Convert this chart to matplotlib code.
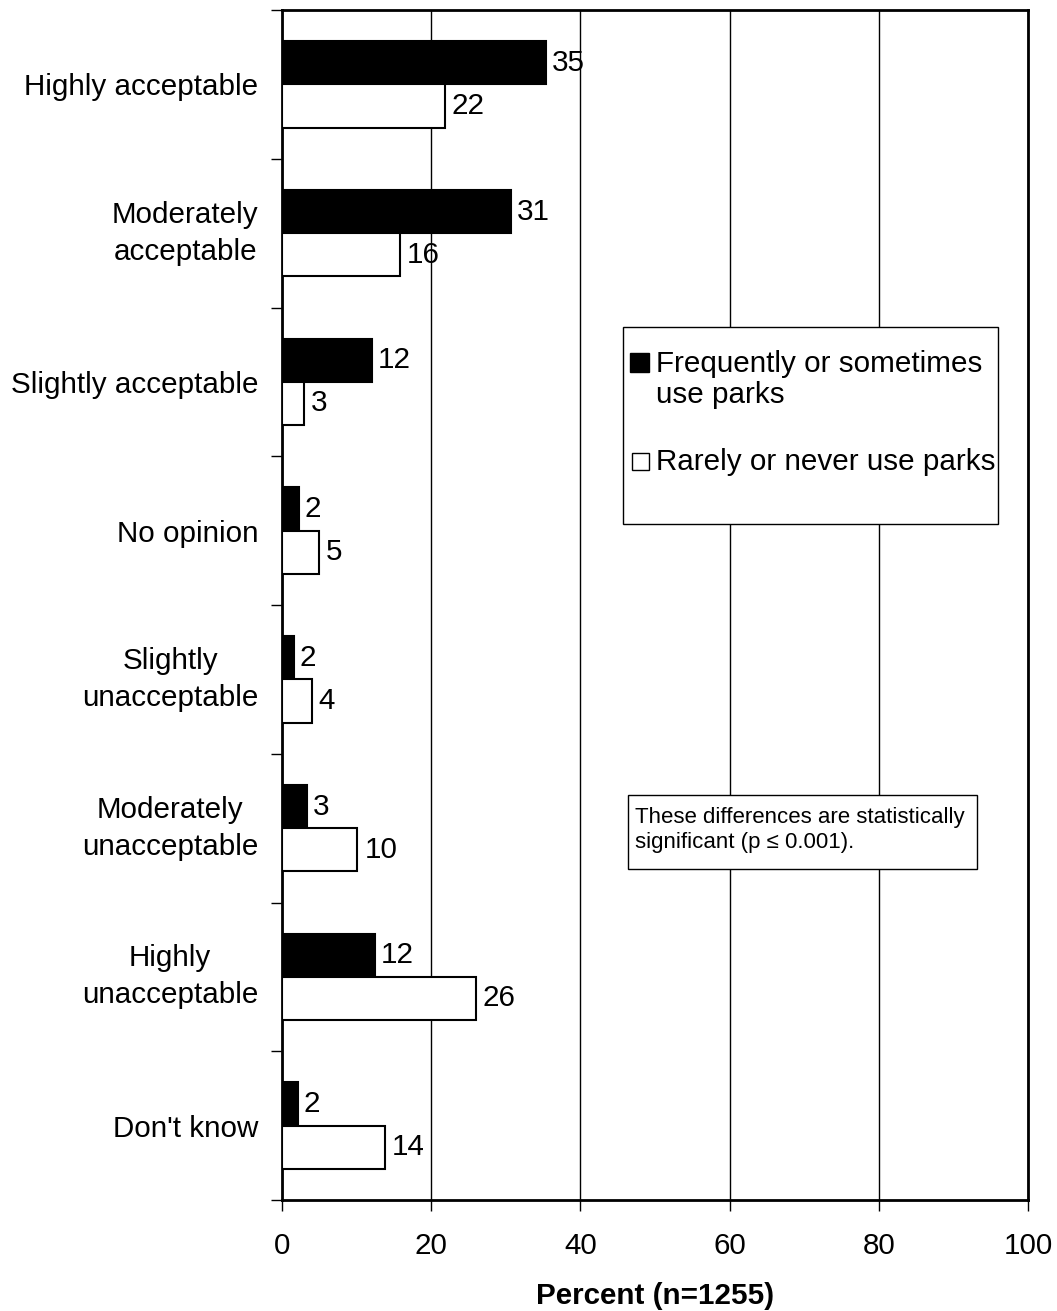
import matplotlib
matplotlib.use('Agg')
from matplotlib import pyplot as plt
from matplotlib.patches import Rectangle
import numpy as np

plt.rcParams['font.family'] = ['Liberation Sans', 'DejaVu Sans']

categories = ['Highly acceptable', 'Moderately\nacceptable', 'Slightly acceptable',
              'No opinion', 'Slightly\nunacceptable', 'Moderately\nunacceptable',
              'Highly\nunacceptable', "Don't know"]
frequent = [35.4, 30.7, 12.1, 2.3, 1.6, 3.4, 12.5, 2.1]
rare = [21.8, 15.8, 2.9, 5.0, 4.0, 10.1, 26.0, 13.8]
frequent_labels = ['35', '31', '12', '2', '2', '3', '12', '2']
rare_labels = ['22', '16', '3', '5', '4', '10', '26', '14']

FS = 21.3

fig = plt.figure(figsize=(10.57, 13.11), dpi=100)
ax = fig.add_axes([282 / 1057, 1 - 1200 / 1311, 746 / 1057, 1190 / 1311])

y = np.arange(len(categories)) + 0.5
h = 0.29
b1 = ax.barh(y - h / 2, frequent, height=h, color='black', edgecolor='black',
             linewidth=1.5, zorder=3)
b2 = ax.barh(y + h / 2, rare, height=h, color='white', edgecolor='black',
             linewidth=1.5, zorder=3)

for bar, lab in zip(b1, frequent_labels):
    ax.annotate(lab, (bar.get_width(), bar.get_y() + bar.get_height() / 2),
                xytext=(4, 0), textcoords='offset points', va='center',
                ha='left', fontsize=FS, zorder=4)
for bar, lab in zip(b2, rare_labels):
    ax.annotate(lab, (bar.get_width(), bar.get_y() + bar.get_height() / 2),
                xytext=(5, 0), textcoords='offset points', va='center',
                ha='left', fontsize=FS, zorder=4)

ax.set_xlim(0, 100)
ax.set_ylim(len(categories), 0)
ax.set_xticks([0, 20, 40, 60, 80, 100])
ax.tick_params(axis='x', labelsize=FS, length=8, width=1, pad=15, direction='out')
ax.set_yticks(np.arange(len(categories) + 1))
ax.set_yticklabels([])
ax.tick_params(axis='y', which='major', length=8, width=1, direction='out')
ax.set_yticks(y, minor=True)
ax.set_yticklabels(categories, minor=True)
ax.tick_params(axis='y', which='minor', length=0, pad=17, labelsize=FS)
for t in ax.get_yticklabels(minor=True):
    t.set_multialignment('center')
    t.set_linespacing(1.4)
    if '\n' in t.get_text():
        t.set_va('center')

ax.grid(axis='x', color='black', linewidth=1, zorder=0)
ax.set_axisbelow(True)
for s in ax.spines.values():
    s.set_linewidth(2)

ax.set_xlabel('Percent (n=1255)', fontsize=FS, fontweight='bold', labelpad=16)

# legend box
W, H = 1057, 1311
fig.patches.append(Rectangle((623 / W, 1 - 524 / H), 375 / W, 197 / H,
                             transform=fig.transFigure, facecolor='white',
                             edgecolor='black', linewidth=1, zorder=5))
fig.patches.append(Rectangle((630 / W, 1 - 372 / H), 19 / W, 19 / H,
                             transform=fig.transFigure, facecolor='black',
                             edgecolor='black', linewidth=1, zorder=6))
fig.patches.append(Rectangle((632 / W, 1 - 470 / H), 17 / W, 17 / H,
                             transform=fig.transFigure, facecolor='white',
                             edgecolor='black', linewidth=1, zorder=6))
fig.text(656 / W, 1 - 403 / H, 'Frequently or sometimes\nuse parks', fontsize=FS,
         va='baseline', ha='left', linespacing=1.15, zorder=7)
fig.text(656 / W, 1 - 470 / H, 'Rarely or never use parks', fontsize=FS,
         va='baseline', ha='left', zorder=7)

# note box
fig.patches.append(Rectangle((628 / W, 1 - 869 / H), 349 / W, 74 / H,
                             transform=fig.transFigure, facecolor='white',
                             edgecolor='black', linewidth=1, zorder=5))
fig.text(635 / W, 1 - 830 / H, 'These differences are statistically\nsignificant (p \u2264 0.001).',
         fontsize=16, va='center', ha='left', linespacing=1.3, zorder=7)

plt.savefig('out.png', dpi=100)
